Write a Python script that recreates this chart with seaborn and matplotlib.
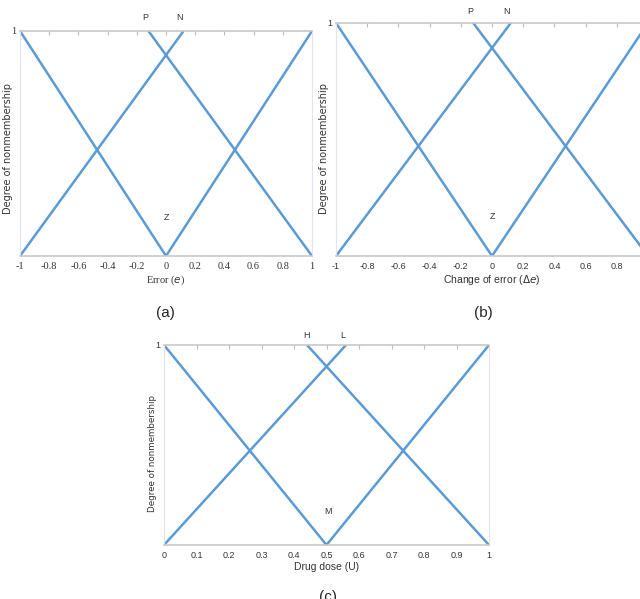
import matplotlib
matplotlib.use("Agg")
import matplotlib.pyplot as plt
import seaborn as sns

sns.set_style("white")
plt.rcParams['font.family'] = ['Liberation Sans', 'DejaVu Sans']

# membership functions for error / change of error
err_ticks = [-1, -0.8, -0.6, -0.4, -0.2, 0, 0.2, 0.4, 0.6, 0.8, 1]
err_tick_labels = ['-1', '-0.8', '-0.6', '-0.4', '-0.2', '0', '0.2', '0.4', '0.6', '0.8', '1']
z_x = [-1, 0, 1]
z_y = [1, 0, 1]
n_x = [-1, 0.12]
n_y = [0, 1]
p_x = [-0.12, 1]
p_y = [1, 0]
err_names = ['P', 'N', 'Z']
err_name_x = [-0.14, 0.09, 0.0]
err_name_y = [1.06, 1.06, 0.17]

# membership functions for drug dose
dose_ticks = [0, 0.1, 0.2, 0.3, 0.4, 0.5, 0.6, 0.7, 0.8, 0.9, 1]
dose_tick_labels = ['0', '0.1', '0.2', '0.3', '0.4', '0.5', '0.6', '0.7', '0.8', '0.9', '1']
m_x = [0, 0.5, 1]
m_y = [1, 0, 1]
l_x = [0, 0.56]
l_y = [0, 1]
h_x = [0.44, 1]
h_y = [1, 0]
dose_names = ['H', 'L', 'M']
dose_name_x = [0.44, 0.55, 0.505]
dose_name_y = [1.05, 1.05, 0.17]

blue = '#5b9bd5'
W, H = 640, 599

fig = plt.figure(figsize=(6.4, 5.99), dpi=100)


def px_axes(left, top, right, bottom):
    return fig.add_axes([left / W, 1 - bottom / H, (right - left) / W, (bottom - top) / H])


def draw_panel(ax, curves, ticks, tick_labels, xlim, names, nx, ny, xlabel, ylab_pos,
               tick_font, tick_size, ylab_size):
    for cx, cy in curves:
        sns.lineplot(x=cx, y=cy, ax=ax, color=blue, linewidth=1.8, sort=False, estimator=None)
    ax.set_xlim(*xlim)
    ax.set_ylim(0, 1)
    ax.set_xticks(ticks)
    ax.set_xticklabels(tick_labels, fontsize=tick_size, family=tick_font, color='#333333')
    ax.set_yticks([1])
    ax.set_yticklabels(['1'], fontsize=tick_size, family=tick_font, color='#333333')
    ax.set_yticks([0, 0.2, 0.4, 0.6, 0.8], minor=True)
    ax.tick_params(axis='x', direction='in', length=3, color='#bbbbbb', top=True, pad=4)
    ax.tick_params(axis='y', which='both', direction='in', length=2, color='#e4e4f0', pad=3)
    for side in ['top', 'bottom']:
        ax.spines[side].set_color('#c8c8c8')
        ax.spines[side].set_linewidth(1.2)
    for side in ['left', 'right']:
        ax.spines[side].set_color('#e4e4f0')
        ax.spines[side].set_linewidth(0.8)
    for t, x0, y0 in zip(names, nx, ny):
        ax.text(x0, y0, t, fontsize=6.5, ha='center', va='center', clip_on=False, color='#333333')
    ax.set_xlabel(xlabel, fontsize=7.5, labelpad=2, family=tick_font, color='#333333')
    ax.set_ylabel('Degree of nonmembership', fontsize=ylab_size, family='DejaVu Sans',
                  color='#333333')
    ax.yaxis.set_label_coords(*ylab_pos)


ax_a = px_axes(20, 31, 312, 256)
draw_panel(ax_a, [(z_x, z_y), (n_x, n_y), (p_x, p_y)], err_ticks, err_tick_labels, (-1, 1),
           err_names, err_name_x, err_name_y, 'Error ($e$)', (-0.024, 0.48),
           'Liberation Serif', 7.5, 7)

ax_b = px_axes(336, 23, 648, 256)
draw_panel(ax_b, [(z_x, z_y), (n_x, n_y), (p_x, p_y)], err_ticks, err_tick_labels, (-1, 1),
           err_names, err_name_x, [1.05, 1.05, 0.17], 'Change of error ($\\Delta e$)',
           (-0.022, 0.46), 'Liberation Sans', 6.5, 7)

ax_c = px_axes(164, 345, 489, 545)
draw_panel(ax_c, [(m_x, m_y), (l_x, l_y), (h_x, h_y)], dose_ticks, dose_tick_labels, (0, 1),
           dose_names, dose_name_x, dose_name_y, 'Drug dose (U)', (-0.022, 0.46),
           'Liberation Sans', 6.5, 6.3)

fig.text(165 / W, 1 - 313 / H, '(a)', fontsize=11, ha='center', va='center')
fig.text(483 / W, 1 - 313 / H, '(b)', fontsize=11, ha='center', va='center')
fig.text(328 / W, 1 - 597 / H, '(c)', fontsize=11, ha='center', va='center')

fig.savefig('out.png', dpi=100)
